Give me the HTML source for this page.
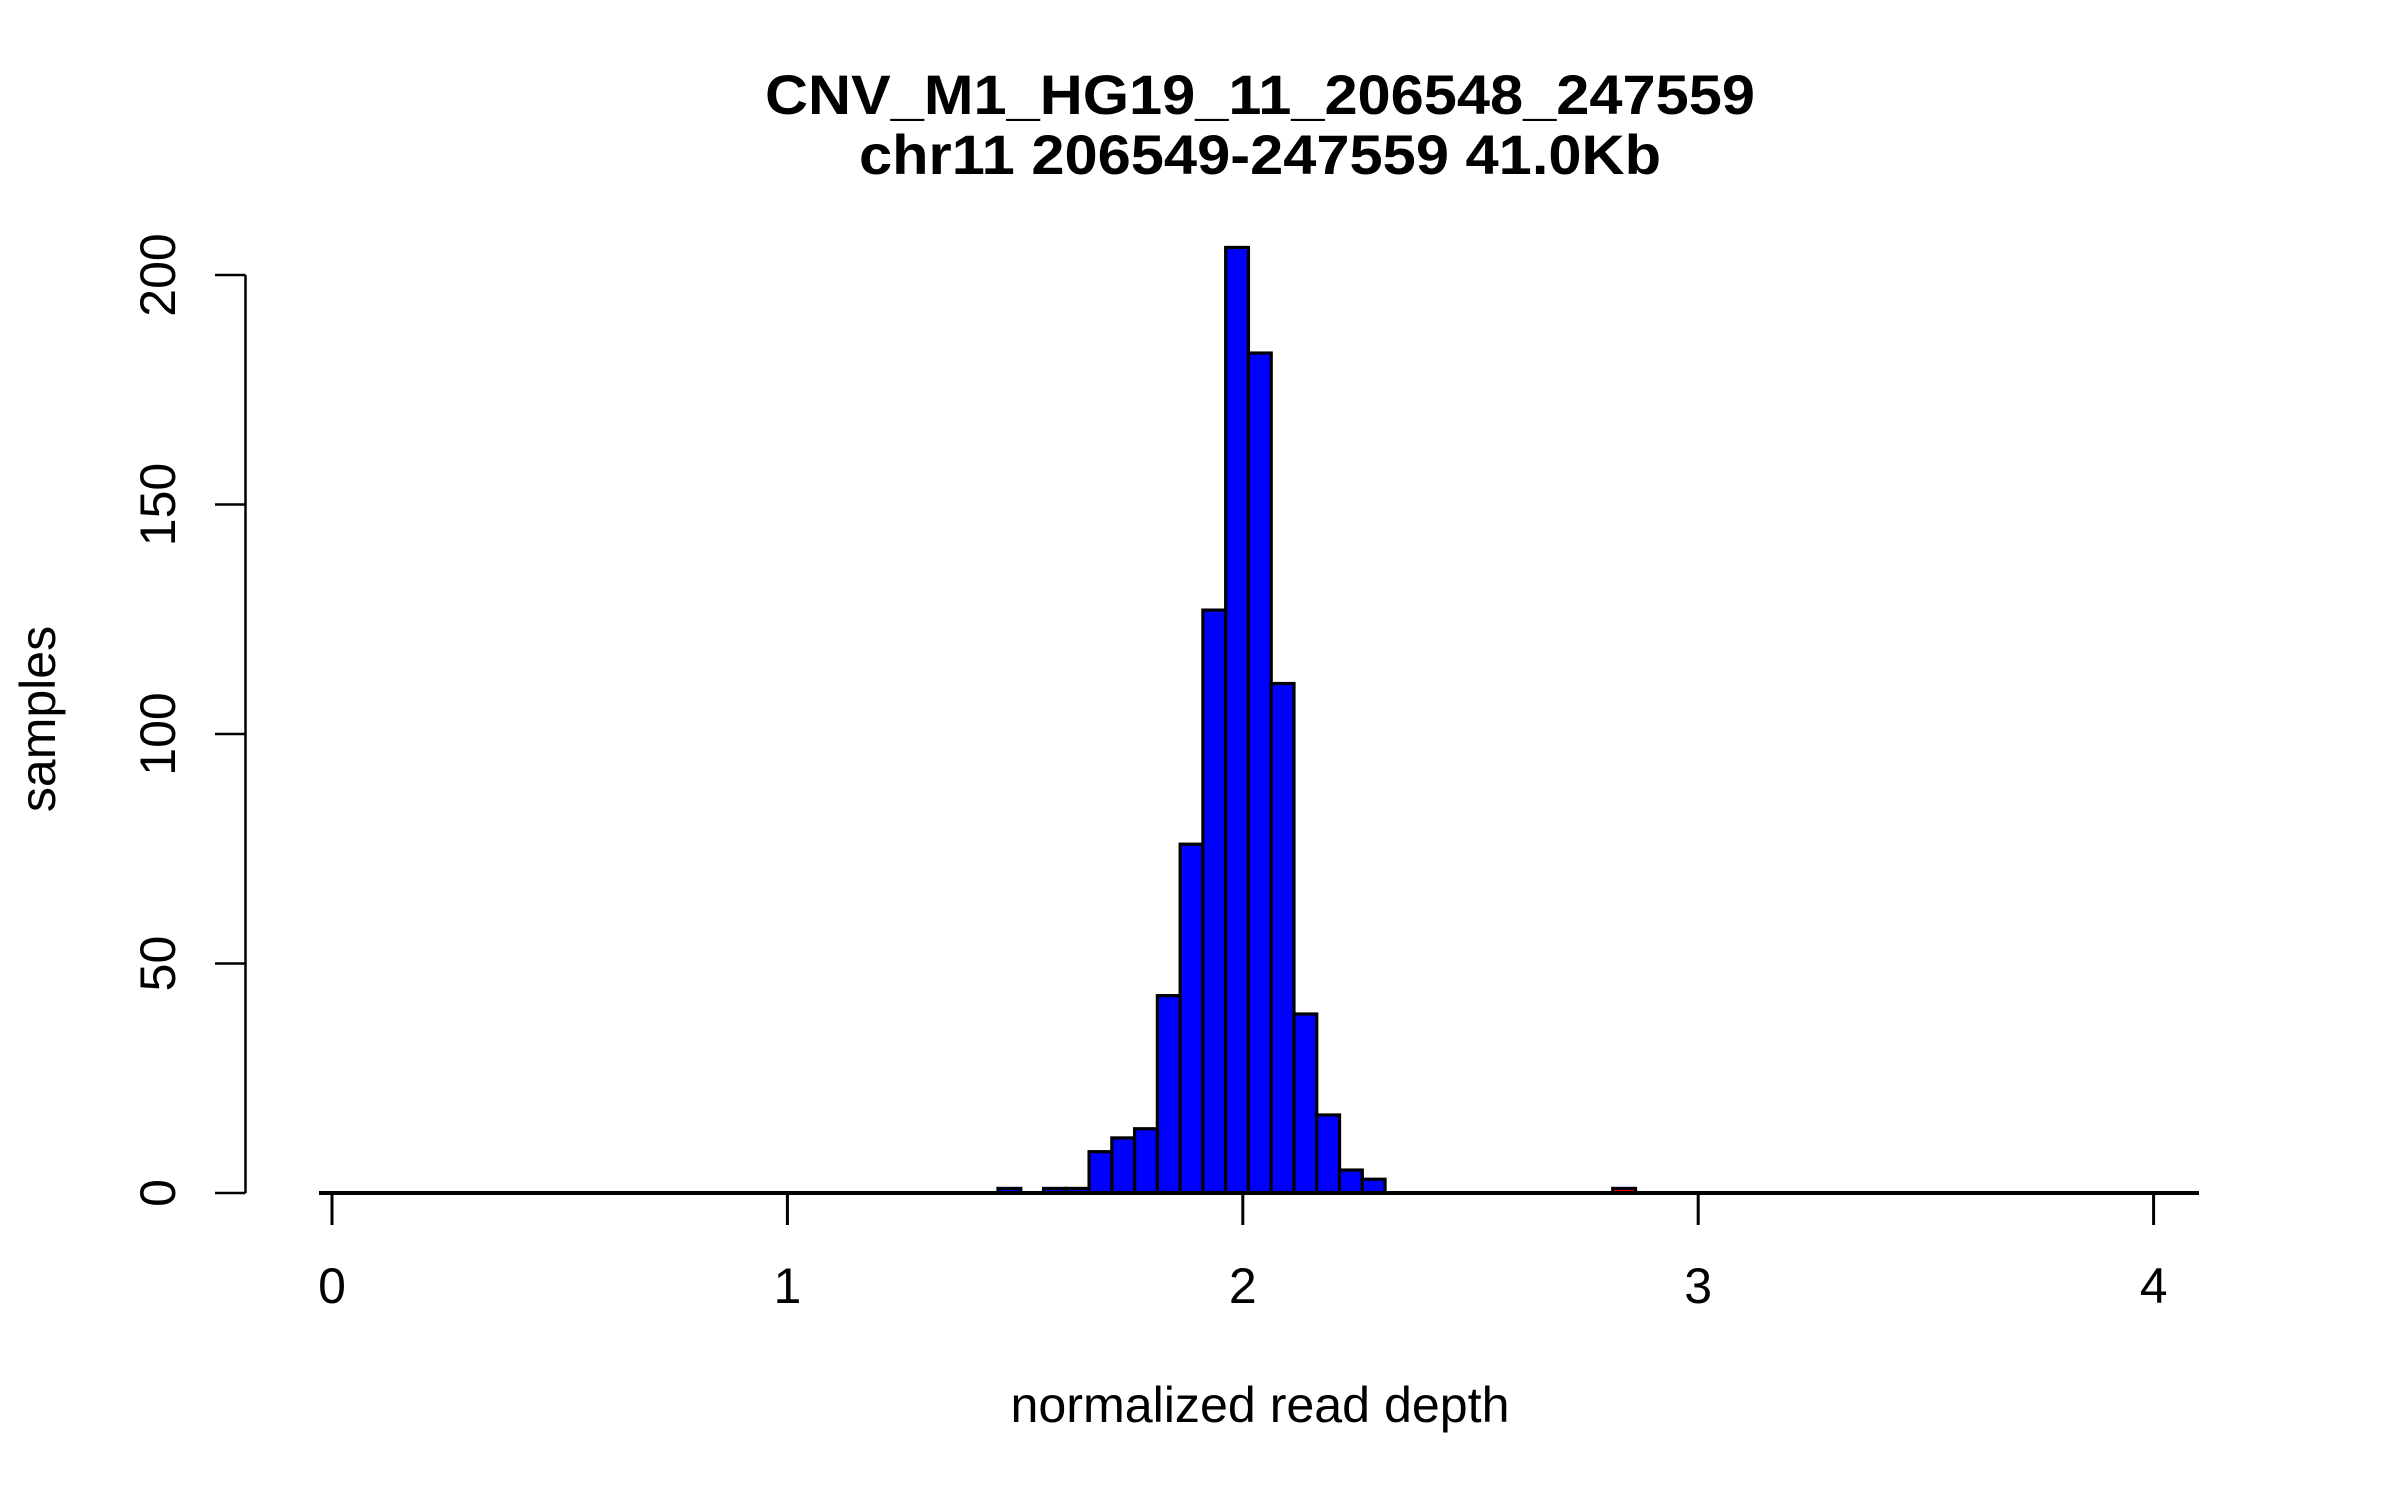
<!DOCTYPE html>
<html><head><meta charset="utf-8"><style>
html,body{margin:0;padding:0;background:#fff}
svg{display:block}
text{font-family:"Liberation Sans",sans-serif;fill:#000}
</style></head><body>
<svg id="chart" width="2400" height="1500" viewBox="0 0 2400 1500" xmlns="http://www.w3.org/2000/svg">
<text x="1260" y="114" text-anchor="middle" font-weight="bold" font-size="56" textLength="990" lengthAdjust="spacingAndGlyphs">CNV_M1_HG19_11_206548_247559</text>
<text x="1260" y="174" text-anchor="middle" font-weight="bold" font-size="56" textLength="802" lengthAdjust="spacingAndGlyphs">chr11 206549-247559 41.0Kb</text>
<text x="1260" y="1422" text-anchor="middle" font-size="50" textLength="499" lengthAdjust="spacingAndGlyphs">normalized read depth</text>
<text x="0" y="0" text-anchor="middle" font-size="50" transform="translate(55,719) rotate(-90)">samples</text>
<g id="bars"></g>
<g id="axes"></g>
</svg>
<script>
const binStarts = [1.4624,1.5124,1.5624,1.6124,1.6624,1.7124,1.7624,1.8124,1.8624,1.9124,1.9624,2.0124,2.0624,2.1124,2.1624,2.2124,2.2624,2.8124];
const counts =    [1,0,1,1,9,12,14,43,76,127,206,183,111,39,17,5,3,1];
const barColors = ['blue','blue','blue','blue','blue','blue','blue','blue','blue','blue','blue','blue','blue','blue','blue','blue','blue','red'];
const binWidth = 0.05;
const xTicks = [0,1,2,3,4];
const yTicks = [0,50,100,150,200];

const NS = 'http://www.w3.org/2000/svg';
function xs(v){ return 332 + v*455.4; }
function ys(v){ return 1193 - v*4.59; }
function mk(tag, attrs, parent){ const e=document.createElementNS(NS,tag); for(const k in attrs) e.setAttribute(k,attrs[k]); parent.appendChild(e); return e; }

const bars = document.getElementById('bars');
const axes = document.getElementById('axes');
binStarts.forEach((b,i)=>{
  if(counts[i]<=0) return;
  const x0=xs(b), x1=xs(b+binWidth), y=ys(counts[i]);
  const r = mk('rect',{x:x0,y:y,width:x1-x0,height:1193-y,fill:barColors[i],stroke:'#000','stroke-width':3.2},bars);
  
  
});
const bl = mk('line',{x1:319,y1:1193,x2:2199,y2:1193,stroke:'#000','stroke-width':4},axes);


xTicks.forEach(t=>{
  const l = mk('line',{x1:xs(t),y1:1193,x2:xs(t),y2:1225,stroke:'#000','stroke-width':3},axes);
  
  
  const tx = mk('text',{x:xs(t),y:1303,'text-anchor':'middle','font-size':50},axes);
  tx.textContent = String(t);
  
  
});
const ya = mk('line',{x1:245.5,y1:ys(200),x2:245.5,y2:ys(0),stroke:'#000','stroke-width':2.5},axes);


yTicks.forEach(t=>{
  const l = mk('line',{x1:215,y1:ys(t),x2:245.5,y2:ys(t),stroke:'#000','stroke-width':2.5},axes);
  
  
  const tx = mk('text',{x:0,y:0,'text-anchor':'middle','font-size':50,transform:'translate(175,'+ys(t)+') rotate(-90)'},axes);
  tx.textContent = String(t);
  
  
});
</script>
</body></html>
